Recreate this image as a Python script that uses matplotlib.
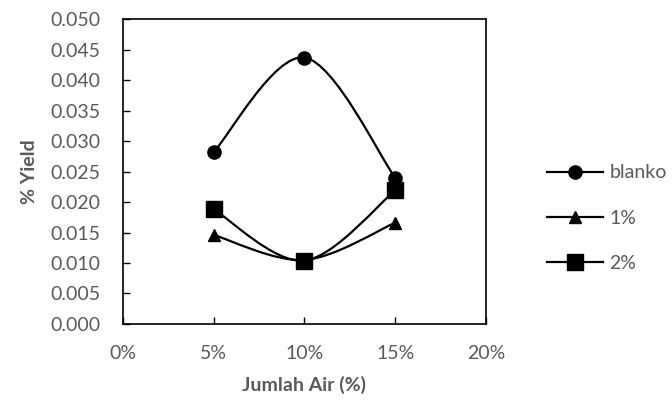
import matplotlib.pyplot as plt
import numpy as np
from matplotlib.path import Path
from matplotlib.patches import PathPatch
from matplotlib.lines import Line2D

plt.rcParams['font.family'] = ['Lato', 'DejaVu Sans']

# data
air = [0.05, 0.10, 0.15]
blanko = [0.0282, 0.0437, 0.0240]
satu = [0.0146, 0.0105, 0.0166]
dua = [0.0188, 0.0104, 0.0219]
labels = ['blanko', '1%', '2%']
markers = ['o', '^', 's']
msizes = [9.5, 8, 11]

grey = '#595959'
fs = 14


def smooth_path(x, y):
    # Excel-like smoothed line: cubic Bezier through the points
    x = np.asarray(x, float)
    y = np.asarray(y, float)
    n = len(x)
    verts = [(x[0], y[0])]
    codes = [Path.MOVETO]
    for i in range(n - 1):
        x0, y0 = (x[i - 1], y[i - 1]) if i > 0 else (x[i], y[i])
        x3, y3 = (x[i + 2], y[i + 2]) if i + 2 < n else (x[i + 1], y[i + 1])
        c1 = (x[i] + (x[i + 1] - x0) / 6, y[i] + (y[i + 1] - y0) / 6)
        c2 = (x[i + 1] - (x3 - x[i]) / 6, y[i + 1] - (y3 - y[i]) / 6)
        verts += [c1, c2, (x[i + 1], y[i + 1])]
        codes += [Path.CURVE4] * 3
    return Path(verts, codes)


fig = plt.figure(figsize=(6.72, 4.07), dpi=100)
ax = fig.add_axes([0.183, 0.204, 0.540, 0.749])

handles = []
for ys, lab, m, ms in zip([blanko, satu, dua], labels, markers, msizes):
    ax.add_patch(PathPatch(smooth_path(air, ys), facecolor='none',
                           edgecolor='black', lw=1.6, zorder=2))
    ax.plot(air, ys, linestyle='none', marker=m, markersize=ms,
            color='black', zorder=3)
    handles.append(Line2D([], [], color='black', lw=1.6, marker=m,
                          markersize=ms, label=lab))

ax.set_xlim(0, 0.20)
ax.set_ylim(0, 0.050)
ax.set_xticks(np.arange(0, 0.201, 0.05))
ax.set_xticklabels(['0%', '5%', '10%', '15%', '20%'])
ax.set_yticks(np.arange(0, 0.0501, 0.005))
ax.set_yticklabels(['%.3f' % v for v in np.arange(0, 0.0501, 0.005)])
ax.tick_params(direction='in', length=5, width=1, colors='black',
               labelcolor=grey, labelsize=fs)
ax.tick_params(axis='x', pad=15)
ax.tick_params(axis='y', pad=16)
for s in ax.spines.values():
    s.set_linewidth(1.2)
    s.set_color('black')

ax.set_xlabel('Jumlah Air (%)', fontsize=fs, fontweight='bold', color=grey,
              labelpad=10)
ax.set_ylabel('% Yield', fontsize=fs, fontweight='bold', color=grey,
              labelpad=9)

fig.legend(handles=handles, loc='center left',
           bbox_to_anchor=(0.814, 0.464), frameon=False, fontsize=fs,
           handlelength=2.9, labelspacing=1.45, handletextpad=0.3,
           borderaxespad=0, borderpad=0, labelcolor=grey)

fig.savefig('out.png', dpi=100)
